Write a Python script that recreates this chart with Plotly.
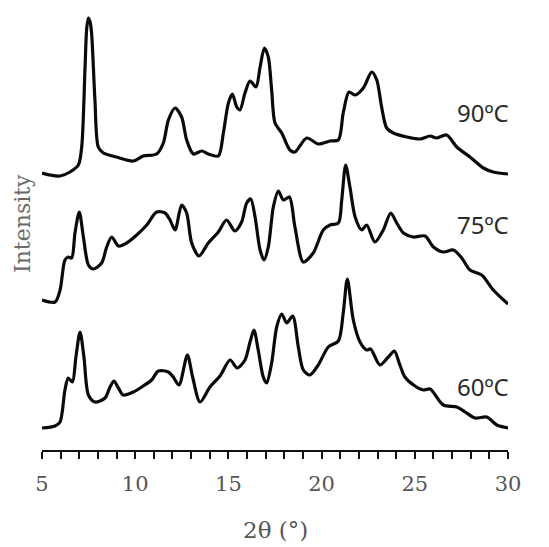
import plotly.graph_objects as go

# 2-theta positions and intensities (arbitrary units, stacked)
x_90 = [5.0, 5.43, 5.97, 6.5, 6.95, 7.13, 7.31, 7.40, 7.49, 7.58, 7.66, 7.84, 8.02, 8.29, 9.0, 9.9, 10.43,
        11.15, 11.51, 11.78, 12.14, 12.49, 12.76, 13.12, 13.57, 13.92, 14.46, 14.73, 15.0, 15.21,
        15.45, 15.62, 15.89, 16.16, 16.48, 16.70, 16.93, 17.14, 17.32, 17.5, 17.86, 18.3, 18.57,
        19.2, 19.82, 20.45, 20.9, 21.16, 21.47, 21.8, 22.24, 22.69, 22.96, 23.22, 23.49, 23.85,
        24.57, 25.28, 25.82, 26.17, 26.71, 27.25, 27.96, 28.68, 29.21, 30.0]
y_90 = [277, 275, 274, 278, 285, 303, 383, 422, 432, 428, 417, 350, 303, 297, 293, 289, 294,
        296, 307, 330, 342, 333, 310, 296, 299, 296, 294, 317, 347, 356,
        343, 340, 357, 369, 363, 383, 402, 393, 360, 327, 317, 300, 298,
        312, 306, 309, 310, 337, 358, 355, 362, 378, 370, 343, 322, 317,
        313, 311, 314, 312, 315, 303, 293, 282, 278, 276]

x_75 = [5.0, 5.7, 5.97, 6.23, 6.41, 6.59, 6.77, 7.0, 7.22, 7.49, 7.75, 8.2, 8.47, 8.74, 9.1, 9.54,
        10.08, 10.62, 11.15, 11.6, 11.87, 12.14, 12.49, 12.76, 13.03, 13.42, 13.92, 14.46, 14.9,
        15.35, 15.71, 15.98, 16.2, 16.43, 16.70, 16.91, 17.14, 17.41, 17.68, 17.95, 18.27, 18.57,
        19.02, 19.55, 20.09, 20.45, 20.9, 21.08, 21.29, 21.52, 21.8, 22.15, 22.42, 22.86, 23.31,
        23.71, 24.03, 24.39, 24.92, 25.55, 26.0, 26.53, 27.07, 27.52, 27.96, 28.59, 29.21, 30.0]
y_75 = [150, 148, 160, 190, 193, 192, 217, 238, 213, 185, 181, 187, 203, 213, 204, 207,
        215, 225, 238, 237, 230, 220, 245, 237, 207, 194, 207, 218, 230,
        219, 228, 247, 251, 233, 200, 190, 203, 243, 259, 250, 253, 223,
        188, 197, 220, 225, 227, 250, 285, 263, 233, 220, 225, 208, 220,
        237, 227, 217, 213, 214, 203, 198, 200, 192, 180, 175, 160, 146]

x_60 = [5.0, 5.7, 5.97, 6.23, 6.41, 6.63, 6.82, 7.04, 7.25, 7.49, 7.84, 8.38, 8.65, 8.86, 9.1,
        9.36, 9.9, 10.43, 10.88, 11.24, 11.78, 12.04, 12.35, 12.8, 13.08, 13.48, 14.01, 14.55,
        15.09, 15.48, 15.89, 16.16, 16.37, 16.6, 16.87, 17.05, 17.32, 17.59, 17.86, 18.13, 18.45,
        18.75, 19.02, 19.38, 19.82, 20.36, 20.9, 21.16, 21.38, 21.7, 22.06, 22.42, 22.63, 23.13,
        23.58, 23.9, 24.2, 24.47, 25.01, 25.46, 25.82, 26.53, 27.25, 27.7, 28.23, 28.86, 29.4, 30.0]
y_60 = [22, 24, 28, 60, 72, 68, 93, 118, 93, 55, 48, 52, 63, 69, 62,
        55, 58, 64, 70, 79, 78, 73, 65, 95, 73, 48, 63, 74,
        90, 82, 90, 108, 120, 100, 73, 67, 87, 123, 136, 127, 134,
        103, 80, 75, 85, 103, 109, 137, 171, 130, 108, 100, 101, 85,
        93, 99, 85, 73, 64, 60, 61, 45, 43, 38, 32, 33, 25, 22]

series_labels = ["90ºC", "75ºC", "60ºC"]
label_y = [338, 226, 64]

x_major_ticks = [5, 10, 15, 20, 25, 30]

SERIF = "DejaVu Serif, Liberation Serif, serif"

fig = go.Figure()
for xs, ys in [(x_90, y_90), (x_75, y_75), (x_60, y_60)]:
    fig.add_trace(go.Scatter(x=xs, y=ys, mode="lines",
                             line=dict(color="#0a0a0a", width=3.2, shape="spline", smoothing=0.8),
                             showlegend=False, hoverinfo="skip"))

for lab, ly in zip(series_labels, label_y):
    fig.add_annotation(x=30, y=ly, xref="x", yref="y", text=lab, showarrow=False,
                       xanchor="right", yanchor="middle", xshift=3,
                       font=dict(family="Noto Sans, Open Sans, sans-serif", size=24, color="#2a2a2a"))

# "Intensity" rotated label at the left
fig.add_annotation(x=0, y=226, xref="paper", yref="y", text="Intensity", showarrow=False,
                   textangle=-90, xanchor="center", yanchor="middle", xshift=-20,
                   font=dict(family=SERIF, size=22, color="#6a6a6a"))
# x-axis title
fig.add_annotation(x=0.5, y=0, xref="paper", yref="paper", text="2θ (°)", showarrow=False,
                   xanchor="center", yanchor="middle", yshift=-80,
                   font=dict(family=SERIF, size=23, color="#555555"))

# the page body adds an 8 px offset; compensate so the plot lands where the reference is
fig.update_layout(
    width=541, height=539,
    margin=dict(l=34, r=41, t=2, b=97),
    plot_bgcolor="white", paper_bgcolor="white",
    xaxis=dict(range=[5, 30], tickvals=x_major_ticks, ticks="outside", ticklen=7, tickwidth=2,
               tickcolor="#111", showline=True, linecolor="#111", linewidth=2,
               showgrid=False, zeroline=False, ticklabelstandoff=7,
               tickfont=dict(family=SERIF, size=21, color="#555555"),
               minor=dict(dtick=1, ticks="outside", ticklen=7, tickwidth=2, tickcolor="#111",
                          showgrid=False)),
    yaxis=dict(range=[0, 440], visible=False),
)
fig.write_html("out.html")
